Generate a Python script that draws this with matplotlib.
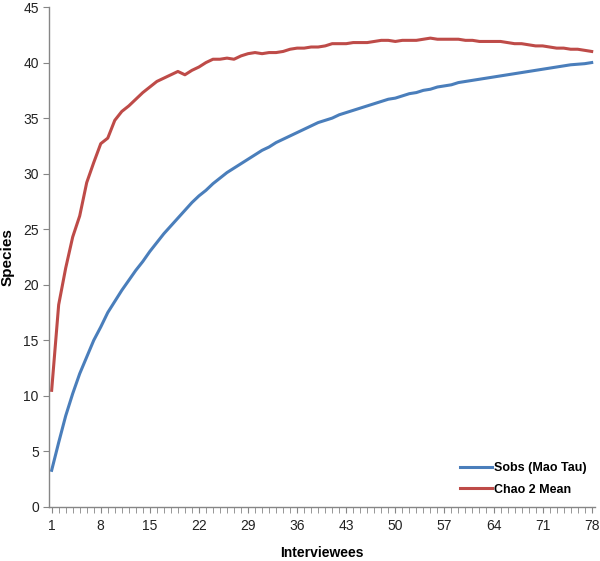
import numpy as np
import matplotlib
matplotlib.use("Agg")
import matplotlib.pyplot as plt
from matplotlib.ticker import MultipleLocator, FixedLocator

# ── data ─────────────────────────────────────────────────────────────────────
interviewees = np.arange(1, 79)

sobs = [
    3.3, 5.8, 8.2, 10.2, 12.0, 13.5, 15.0, 16.2, 17.5, 18.5,
    19.5, 20.4, 21.3, 22.1, 23.0, 23.8, 24.6, 25.3, 26.0, 26.7,
    27.4, 28.0, 28.5, 29.1, 29.6, 30.1, 30.5, 30.9, 31.3, 31.7,
    32.1, 32.4, 32.8, 33.1, 33.4, 33.7, 34.0, 34.3, 34.6, 34.8,
    35.0, 35.3, 35.5, 35.7, 35.9, 36.1, 36.3, 36.5, 36.7, 36.8,
    37.0, 37.2, 37.3, 37.5, 37.6, 37.8, 37.9, 38.0, 38.2, 38.3,
    38.4, 38.5, 38.6, 38.7, 38.8, 38.9, 39.0, 39.1, 39.2, 39.3,
    39.4, 39.5, 39.6, 39.7, 39.8, 39.85, 39.9, 40.0,
]

chao2 = [
    10.5, 18.2, 21.5, 24.3, 26.2, 29.2, 31.0, 32.7, 33.2, 34.8,
    35.6, 36.1, 36.7, 37.3, 37.8, 38.3, 38.6, 38.9, 39.2, 38.9,
    39.3, 39.6, 40.0, 40.3, 40.3, 40.4, 40.3, 40.6, 40.8, 40.9,
    40.8, 40.9, 40.9, 41.0, 41.2, 41.3, 41.3, 41.4, 41.4, 41.5,
    41.7, 41.7, 41.7, 41.8, 41.8, 41.8, 41.9, 42.0, 42.0, 41.9,
    42.0, 42.0, 42.0, 42.1, 42.2, 42.1, 42.1, 42.1, 42.1, 42.0,
    42.0, 41.9, 41.9, 41.9, 41.9, 41.8, 41.7, 41.7, 41.6, 41.5,
    41.5, 41.4, 41.3, 41.3, 41.2, 41.2, 41.1, 41.0,
]

x_labels = list(range(1, 79, 7))

# ── plot ─────────────────────────────────────────────────────────────────────
plt.rcParams["font.family"] = ["Liberation Sans", "DejaVu Sans"]

fig = plt.figure(figsize=(6.0, 5.61), dpi=100)
ax = fig.add_axes([0.082, 0.0963, 0.910, 0.8912])

ax.plot(interviewees, sobs, color="#4A7EBB", lw=2.2, label="Sobs (Mao Tau)")
ax.plot(interviewees, chao2, color="#BE4B48", lw=2.2, label="Chao 2 Mean")

ax.set_xlim(0.65, 78.5)
ax.set_ylim(0, 45)
ax.yaxis.set_major_locator(MultipleLocator(5))
ax.xaxis.set_major_locator(FixedLocator(x_labels))
ax.xaxis.set_minor_locator(MultipleLocator(1))

for side in ("top", "right"):
    ax.spines[side].set_visible(False)
for side in ("left", "bottom"):
    ax.spines[side].set_color("#868686")
    ax.spines[side].set_linewidth(1.0)

ax.tick_params(axis="both", which="major", direction="out", length=4,
               color="#868686", labelsize=10, labelcolor="#222222")
ax.tick_params(axis="x", which="minor", direction="out", length=4,
               color="#868686")
ax.tick_params(axis="x", pad=5)

ax.set_xlabel("Interviewees", fontsize=10, fontweight="bold", labelpad=9)
ax.set_ylabel("Species", fontsize=11, fontweight="bold", labelpad=6)

leg = ax.legend(loc="lower right", bbox_to_anchor=(1.005, 0.0), frameon=False,
                handlelength=2.6, handletextpad=0.15, labelspacing=0.75,
                prop={"size": 9, "weight": "bold"})

fig.savefig("out.png", dpi=100)
